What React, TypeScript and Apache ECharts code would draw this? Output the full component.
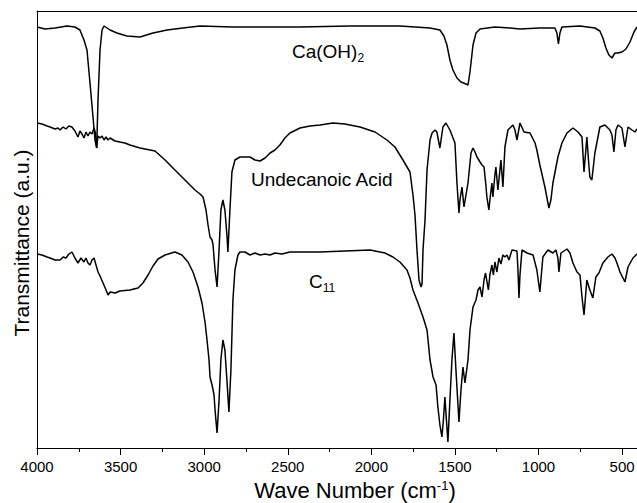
import React, { useEffect, useRef } from 'react';
import * as echarts from 'echarts';

// ---- data (wavenumber in cm^-1, transmittance in arbitrary units) ----
const xMajorTicks = [500, 1000, 1500, 2000, 2500, 3000, 3500, 4000];
const xMinorTicks = [750, 1250, 1750, 2250, 2750, 3250, 3750];

const caWn = [4000,3952,3892,3821,3773,3743,3719,3701,3683,3665,3653,3643,3635,3623,3611,3599,3563,3522,3462,3384,3306,3222,3127,3025,2828,2624,2427,2128,1829,1649,1590,1566,1548,1530,1512,1488,1464,1434,1422,1410,1392,1374,1350,1261,1171,1111,992,902,890,881,872,860,752,663,633,615,597,579,561,543,525,501,477,453,429,411];
const caT = [421,419,420,422,421,418,408,398,365,331,308,300,348,398,418,422,418,415,412,411,415,418,420,422,421,421,421,422,422,420,418,412,403,388,378,370,366,364,363,376,403,415,419,421,420,419,420,420,415,404,415,421,422,420,417,410,400,393,390,395,395,396,399,406,416,421];

const acidWn = [4000,3970,3940,3922,3892,3874,3862,3844,3827,3809,3791,3773,3755,3743,3731,3719,3707,3695,3683,3671,3659,3650,3643,3635,3623,3611,3599,3587,3575,3563,3533,3504,3474,3444,3384,3324,3294,3234,3175,3115,3055,3025,3007,2989,2977,2965,2953,2947,2935,2923,2911,2900,2888,2876,2864,2858,2846,2834,2816,2786,2726,2696,2666,2636,2606,2577,2547,2517,2487,2427,2367,2307,2230,2158,2068,1978,1907,1859,1811,1769,1751,1739,1727,1715,1703,1697,1691,1679,1667,1649,1637,1619,1608,1590,1572,1554,1530,1500,1488,1476,1470,1458,1446,1434,1422,1404,1392,1380,1368,1350,1338,1326,1315,1309,1297,1291,1279,1273,1261,1255,1243,1231,1225,1213,1201,1183,1153,1141,1129,1111,1087,1051,1021,1010,992,962,938,926,914,884,860,830,794,764,740,728,717,711,699,693,681,663,633,603,573,561,549,537,525,501,483,465,441,423,411];
const acidT = [325,324,322,321,319,320,318,321,319,322,321,317,311,317,314,310,316,312,316,314,320,315,300,312,310,312,308,311,308,310,307,306,305,303,300,298,297,288,278,268,258,254,251,238,223,211,208,203,178,161,198,238,248,238,213,196,238,276,288,291,291,288,287,290,295,298,303,310,315,320,322,323,325,324,321,316,308,301,288,276,253,233,198,168,161,164,198,228,278,308,315,318,316,300,321,325,318,305,265,235,248,261,241,253,265,295,300,296,291,286,283,281,263,251,238,248,265,251,273,281,258,278,288,261,301,318,323,318,308,325,316,315,305,298,283,261,240,248,265,291,305,315,320,316,311,276,298,311,283,271,268,295,321,323,318,313,296,318,323,320,301,321,318,316,319];

const c11Wn = [4000,3970,3940,3922,3892,3862,3844,3827,3809,3791,3773,3755,3737,3719,3707,3695,3683,3671,3659,3647,3635,3623,3605,3587,3575,3563,3533,3504,3444,3396,3366,3336,3306,3276,3234,3175,3133,3097,3067,3037,3013,2995,2983,2971,2965,2953,2941,2935,2923,2911,2900,2888,2876,2864,2852,2840,2828,2816,2798,2786,2756,2726,2696,2666,2636,2606,2577,2535,2487,2427,2307,2158,2008,1919,1871,1829,1787,1769,1751,1721,1691,1667,1649,1631,1613,1602,1590,1578,1569,1560,1551,1542,1530,1518,1506,1494,1476,1464,1452,1440,1422,1410,1392,1374,1362,1350,1338,1326,1317,1309,1300,1291,1279,1270,1261,1249,1237,1225,1213,1201,1189,1177,1159,1129,1123,1117,1111,1099,1069,1033,1010,992,974,944,914,896,884,878,866,830,812,794,770,752,740,728,711,693,675,657,639,615,585,561,543,531,513,501,483,465,435,411];
const c11T = [194,193,191,190,188,188,191,190,194,196,190,185,190,186,190,185,183,188,190,183,176,172,165,158,153,156,155,157,158,160,165,173,182,189,193,196,193,186,176,161,145,126,108,88,71,63,53,38,15,48,88,108,98,68,36,78,148,178,193,196,196,193,195,193,194,193,195,194,196,196,196,197,198,195,191,186,178,170,158,145,131,118,88,71,63,41,23,11,28,51,28,6,48,88,115,78,26,58,81,65,88,118,141,148,158,161,151,168,175,167,158,173,183,173,186,176,190,184,193,191,193,188,198,197,178,150,173,198,195,193,178,156,191,198,195,198,190,176,195,199,195,185,176,173,151,133,168,158,150,171,175,185,191,194,190,185,176,172,166,181,190,194];

// label anchor positions [wavenumber, transmittance]
const caLabelAt = [2475, 395];
const acidLabelAt = [2720, 269];
const c11LabelAt = [2373, 165];

const xMin = 411;
const xMax = 4000;
const yMin = 0;
const yMax = 437;

const FONT = 'Arial, "Liberation Sans", Helvetica, sans-serif';

const zip = (xs: number[], ys: number[]) => xs.map((x, i) => [x, ys[i]]);

const subRich = {
  m: { fontSize: 19, lineHeight: 22, verticalAlign: 'top', fontFamily: FONT, color: '#000' },
  s: { fontSize: 12, lineHeight: 12, padding: [16, 0, 0, 0], verticalAlign: 'bottom', fontFamily: FONT, color: '#000' },
};

function labelPoint(at: number[], text: string) {
  return {
    symbol: 'circle',
    symbolSize: 0,
    silent: true,
    itemStyle: { color: 'transparent' },
    label: {
      show: true,
      position: 'right',
      distance: 0,
      formatter: text,
      fontSize: 19,
      fontFamily: FONT,
      color: '#000',
      rich: subRich,
    },
    data: [{ coord: at }],
  };
}

export default function App() {
  const ref = useRef<HTMLDivElement>(null);
  useEffect(() => {
    if (!ref.current) return;
    const chart = echarts.init(ref.current, undefined, { renderer: 'svg' });
    const axisBase = { type: 'value', min: xMin, max: xMax, inverse: true, splitLine: { show: false } };
    const lineStyle = { color: '#000', width: 1.5 };
    chart.setOption({
      animation: false,
      backgroundColor: '#fff',
      grid: { left: 37, right: 0, top: 11, bottom: 55, containLabel: false, outerBoundsMode: 'none' },
      xAxis: [
        {
          ...axisBase,
          position: 'bottom',
          axisLine: { show: true, onZero: false, lineStyle: { color: '#000', width: 1 } },
          axisTick: { show: true, inside: false, length: 7, customValues: xMajorTicks, lineStyle: { color: '#000', width: 1 } },
          axisLabel: {
            show: true, customValues: xMajorTicks, color: '#000', fontSize: 15, fontFamily: FONT, margin: 11,
            formatter: (v: number) => String(v),
          },
          name: '{a|Wave Number (cm}{s|-1}{a|)}',
          nameLocation: 'middle',
          nameGap: 30,
          nameTextStyle: {
            padding: [0, 0, 0, 36],
            rich: {
              a: { fontSize: 22, lineHeight: 24, fontFamily: FONT, color: '#000' },
              s: { fontSize: 13, lineHeight: 12, verticalAlign: 'top', fontFamily: FONT, color: '#000' },
            },
          },
        },
        {
          ...axisBase,
          position: 'bottom',
          axisLine: { show: false, onZero: false },
          axisTick: { show: true, inside: false, length: 4, customValues: xMinorTicks, lineStyle: { color: '#000', width: 1 } },
          axisLabel: { show: false },
        },
        {
          ...axisBase,
          position: 'top',
          axisLine: { show: true, onZero: false, lineStyle: { color: '#000', width: 1 } },
          axisTick: { show: false },
          axisLabel: { show: false },
        },
      ],
      yAxis: {
        type: 'value',
        min: yMin,
        max: yMax,
        axisLine: { show: true, onZero: false, lineStyle: { color: '#000', width: 1 } },
        axisTick: { show: false },
        axisLabel: { show: false },
        splitLine: { show: false },
        name: 'Transmittance (a.u.)',
        nameLocation: 'middle',
        nameGap: 5,
        nameTextStyle: { fontSize: 21, fontFamily: FONT, color: '#000', padding: [0, 27, 0, 0] },
      },
      series: [
        {
          name: 'Ca(OH)2', type: 'line', xAxisIndex: 0, yAxisIndex: 0, showSymbol: false, symbol: 'none',
          lineStyle, data: zip(caWn, caT),
          markPoint: labelPoint(caLabelAt, '{m|Ca(OH)}{s|2}'),
        },
        {
          name: 'Undecanoic Acid', type: 'line', xAxisIndex: 0, yAxisIndex: 0, showSymbol: false, symbol: 'none',
          lineStyle, data: zip(acidWn, acidT),
          markPoint: labelPoint(acidLabelAt, 'Undecanoic Acid'),
        },
        {
          name: 'C11', type: 'line', xAxisIndex: 0, yAxisIndex: 0, showSymbol: false, symbol: 'none',
          lineStyle, data: zip(c11Wn, c11T),
          markPoint: labelPoint(c11LabelAt, '{m|C}{s|11}'),
        },
      ],
    });
    return () => chart.dispose();
  }, []);
  return (
    <div
      ref={ref}
      style={{ position: 'fixed', left: 0, top: 0, width: 637, height: 503, background: '#fff' }}
    />
  );
}
